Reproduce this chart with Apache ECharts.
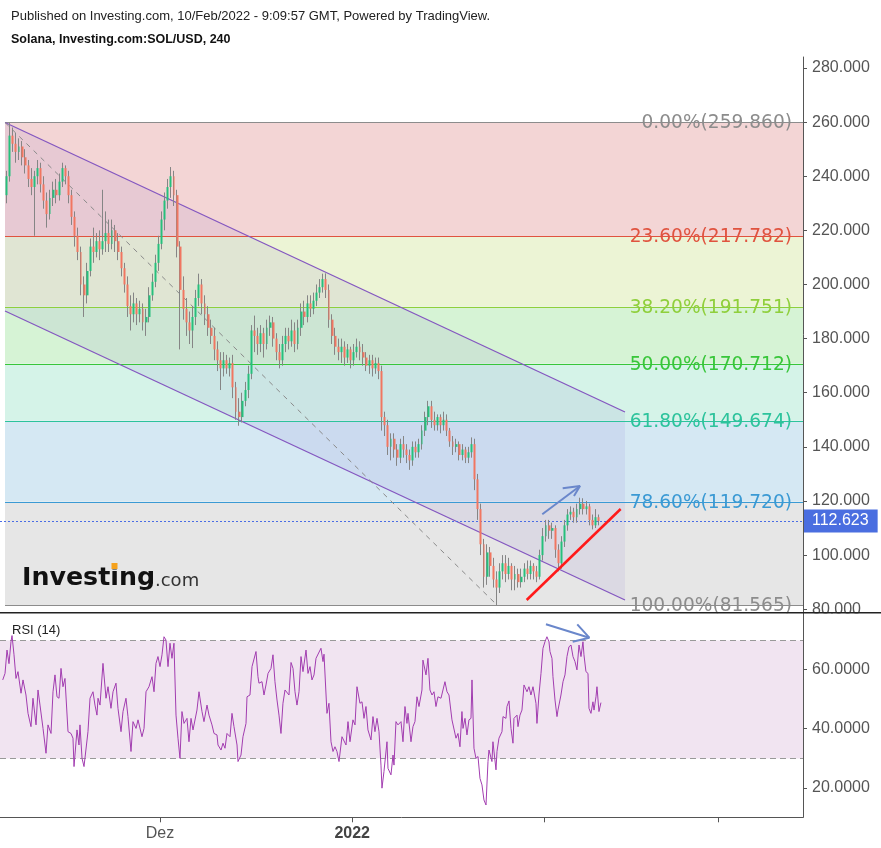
<!DOCTYPE html>
<html><head><meta charset="utf-8">
<script src="https://cdn.jsdelivr.net/npm/echarts@6/dist/echarts.min.js"></script>
<style>html,body{margin:0;padding:0;background:#fff}#c{width:881px;height:848px}</style>
</head><body><div id="c"></div>
<script>
// ---------- time base ----------
const DAY = 86400000;
const T0 = Date.UTC(2021, 10, 1);          // day 0 = 1 Nov 2021
const T = d => T0 + d * DAY;
const xMinDay = 4.19, xMaxDay = 133.71;
const candleStartDay = 5.25, candleStepDays = 0.5;  // 12h candles

// ---------- SOL/USD candles ----------
const opens = [233,240,255,252,249,251,247,244,239,236, 240,243,237,231,226,232,235,233,238,243,
 240,233,225,218,212,200,196,205,214,212, 216,213,216,219,215,220,216,212,206,200,
 192,189,193,189,191,186,188,196,201,208, 215,224,231,236,240,233,214,198,191,186,
 183,188,195,200,193,189,184,181,176,172, 169,172,169,171,162,153,151,157,161,167,
 183,181,178,182,178,184,186,180,175,172, 178,181,179,183,178,184,190,188,193,191,
 194,197,199,202,198,187,181,177,175,177, 173,176,172,175,177,175,173,170,172,169,
 171,168,151,148,140,143,139,136,141,139, 137,135,140,138,141,146,151,155,150,148,
 151,148,150,146,142,140,141,137,139,136, 138,141,128,117,104,92,101,96,91,88,
 94,97,93,96,91,93,90,92,95,93, 96,94,92,100,107,111,109,110,102,97,
 105,111,115,116,114,117,119,117,118,113, 111,114];
const closes = [240,255,252,249,251,247,244,239,236,240, 243,237,231,226,232,235,233,238,243,240,
 233,225,218,212,200,196,205,214,212,216, 213,216,219,215,220,216,212,206,200,192,
 189,193,189,191,186,188,196,201,208,215, 224,231,236,240,233,214,198,191,186,183,
 188,195,200,193,189,184,181,176,172,169, 172,169,171,162,153,151,157,161,167,183,
 181,178,182,178,184,186,180,175,172,178, 181,179,183,178,184,190,188,193,191,194,
 197,199,202,198,187,181,177,175,177,173, 176,172,175,177,175,173,170,172,169,171,
 168,151,148,140,143,139,136,141,139,137, 135,140,138,141,146,151,155,150,148,151,
 148,150,146,142,140,141,137,139,136,138, 141,128,117,104,92,101,96,91,88,94,
 97,93,96,91,93,90,92,95,93,96, 94,92,100,107,111,109,110,102,97,105,
 111,115,116,114,117,119,117,118,113,111, 114,112.623];
const lows = [230,238,249,245,246,244,241,236,233,218, 237,234,228,221,224,229,230,231,236,237,
 230,222,214,209,196,188,193,203,208,210, 209,211,212,212,213,212,209,203,197,188,
 183,186,185,186,183,181,186,194,199,205, 213,220,228,232,229,210,176,187,181,178,
 176.5,185,192,189,185,181,178,172,168,161, 166,167,166,158,150,147.8,149,155,158,165,
 175,174,175,173,176,181,177,172,169,170, 175,176,177,175,176,181,185,186,188,189,
 192,195,197,195,184,178,174,172,171,170, 171,169,170,173,172,170,168,167,166,167,
 165,146,144,137,135,136,133,134,136,134, 131.5,133,136,136,139,144,148,147,146,146,
 145,146,144,140,137,138,135,135,134,134, 136,124,113,100,88,89,92,88,81.565,86,
 91,90,91,87,87,88,88,90,91,91, 91,90,91,98,105,106,106,99,94,95,
 103,109,113,112,112,115,115,115,111,109.5, 110,111];
const highs = [242,259.86,258,256,254,253,250,246,243,242, 246,245,240,234,235,238,239,241,245,244,
 242,235,227,221,214,203,208,217,221,219, 220,235,227,224,224,222,219,214,208,203,
 196,197,195,194,193,191,199,204,211,218, 227,234,239,243.4,242,235,216,203,195,190,
 192,198,204,202,196,192,187,184,179,175, 175,174,173,174,164,158,160,164,170,185,
 188.5,184,185,184,187,188.5,188,182,178,181, 184,184,187,186,187,193,194,196,196,197,
 200,202,204,204.1,200,189,184,180,180,179, 178,177,178,180,179,178,175,174,174,173,
 173,170,153,150,145,145,141,143,144,141, 139,142,142,143,148,153,157,157,153,152,
 152,153,152,147,144,143,142,141,140,140, 143.5,143,130,119,106,104,103,99,94,97,
 100,100,99,97,96,95,95,97,98,98, 97,96,102,110,113,113,112,111,104,107,
 113,117,118,117.5,119,121.2,121,120,119,115, 117,115];

// ---------- RSI(14) ----------
const rsiDay = [4.63,5.00,5.32,5.64,5.96,6.13,6.45,6.77,7.09,7.58, 7.90,8.38,8.71,9.19,9.51,10.00,10.32,10.64,11.13,11.61,
 11.93,12.42,12.74,13.06,13.38,13.71,14.03,14.35,14.67,15.16, 15.64,15.96,16.13,16.61,16.93,17.09,17.42,17.74,18.06,18.38,
 18.71,19.19,19.51,19.83,20.00,20.32,20.80,21.29,21.61,22.09, 22.42,22.90,23.22,23.71,24.03,24.51,24.83,25.32,25.64,26.13,
 26.45,27.09,27.42,27.74,28.22,28.71,29.03,29.35,29.67,30.00, 30.32,30.64,30.96,31.29,31.61,31.93,32.25,32.58,32.90,33.22,
 33.54,33.87,34.35,34.67,35.00,35.32,35.64,35.96,36.29,36.77, 37.09,37.58,37.90,38.38,38.71,39.19,39.35,39.84,40.16,40.48,
 40.80,41.29,41.61,41.93,42.42,42.58,43.06,43.38,43.87,44.03, 44.51,44.84,45.16,45.48,45.80,45.96,46.45,46.77,47.09,47.42,
 47.90,48.22,48.54,48.87,49.19,49.51,49.83,50.16,50.48,50.80, 51.13,51.45,51.77,52.09,52.42,52.74,53.06,53.55,53.87,54.19,
 54.51,54.84,55.16,55.48,55.96,56.29,56.45,56.93,57.25,57.58, 57.90,58.22,58.54,58.87,59.35,59.67,60.00,60.32,60.64,61.12,
 61.45,61.77,62.25,62.58,62.90,63.22,63.54,64.03,64.35,64.67, 65.00,65.32,65.64,65.80,66.12,66.61,66.77,67.25,67.58,67.74,
 68.06,68.38,68.87,69.19,69.51,69.83,70.00,70.48,70.80,71.12, 71.45,71.77,72.25,72.41,72.90,73.22,73.54,73.87,74.19,74.51,
 74.83,75.32,75.64,75.96,76.29,76.61,77.09,77.41,77.74,78.06, 78.38,78.70,78.87,79.19,79.51,79.83,80.16,80.32,80.64,80.96,
 81.29,81.61,81.93,82.25,82.58,82.90,83.06,83.54,83.70,84.19, 84.35,84.67,85.16,85.32,85.80,85.96,86.29,86.61,86.93,87.09,
 87.58,87.74,88.06,88.38,88.71,89.19,89.51,89.83,90.16,90.64, 90.80,91.12,91.45,91.77,92.09,92.41,92.74,92.90,93.22,93.38,
 93.71,94.03,94.19,94.67,95.00,95.32,95.64,95.96,96.29,96.61, 96.93,97.25,97.58,97.90,98.22,98.38,98.70,99.03,99.19,99.51,
 99.83,100.00,100.32,100.48,100.80,101.12];
const rsiVal = [56.5,58.7,66.6,62,69.4,71.5,65,57,59.3,52, 56.5,51.4,45.2,40.7,50.3,41.3,53.1,48,40.1,31.7,
 41.3,38.4,52.5,58.2,50.8,50.3,60.4,54.2,57,39, 38.4,36.8,27.2,39.6,34.5,41.3,30,27.2,26.6,39,
 50.3,52.5,48,44.6,50.3,48,62.1,50.3,54.2,46.9, 52.5,55.4,46.9,39,45.8,50.3,44.1,32.3,42.4,40.1,
 43,37.3,40.1,52.5,54.2,57.6,52.5,62.1,64.4,61, 65,71.1,70,61,68.9,63.8,68.9,44.6,36.8,30,
 45.8,41.8,43.5,35.6,43.5,39.6,40.1,46.3,52.5,45.8, 42.4,48,44.6,41.3,38.4,37.9,34.5,32.8,35.1,33.4,
 38.4,37.3,45.2,40.7,34.5,28.9,31.1,37.3,41.8,50.8, 51.4,61,60.4,66.1,57.6,55.4,55.9,51.4,54.8,58.7,
 60.4,65,55.9,49.7,44.6,38.4,48.6,53.1,53.7,51.4, 62.4,60.4,52.5,48,52.5,64.4,59.3,66.6,58.7,61,
 56.5,58.2,63.8,64.4,67.2,62.7,65.2,45.2,48.6,35.6, 32.3,33.9,32.3,28.9,37.3,36.8,34.5,42.4,35.6,43,
 41.3,54.2,48.6,49.1,43.5,47.5,39.6,36.2,44.1,39, 43.5,39,27.7,19.9,25.5,35.6,26.6,24.4,31.1,27.7,
 42.4,41.3,42.4,35.6,47.5,41.8,45.2,35.6,40.7,42.4, 50.8,47.5,53.1,63.2,58.2,63.8,53.1,51.4,52.5,47.5,
 50.8,50.3,53.1,55.9,52.5,51.4,43,42.4,36.8,38.4, 33.9,45.8,40.1,43.5,37.9,43,43.5,56.5,33.4,30,
 30.6,23.2,21,15.9,14.2,28.9,32.8,28.9,35.6,26.1, 32.3,36.8,39,44.1,43.5,47.5,49.4,40.1,35.1,43.5,
 44.6,40.7,44.6,46.3,54.8,52.5,54.2,51.4,54.2,48.6, 41.8,51.4,58.7,67.2,69.4,71.1,69.4,66.1,63.8,57.6,
 49.7,44.1,46.3,51.4,55.9,58.2,64.4,67.7,68.3,64.4, 62.7,59.9,68.3,64.4,69.4,65,59.3,58.7,46.9,45.2,
 49.1,46.3,50.8,54.2,45.8,48.8262];

// ---------- Fibonacci retracement ----------
const fibPct = [0, 23.6, 38.2, 50, 61.8, 78.6, 100];
const fibVal = [259.860, 217.782, 191.751, 170.712, 149.674, 119.720, 81.565];
const fibColor = ['#8c8c8c', '#e0533f', '#8fcf3c', '#38c63a', '#2dc39c', '#3b9ad4', '#8c8c8c'];
const fibZone = ['#f3d5d5', '#ecf4d5', '#d6f3d5', '#d5f3e8', '#d5e8f3', '#e6e6e6'];
const fibStartDay = 5.0;

// ---------- drawings (data space: [day, price]) ----------
const channelUpper = [[5.0, 259.86], [105.0, 152.88]];
const channelLower = [[5.0, 190.21], [105.0, 83.41]];
const fibDiagonal = [[5.0, 259.86], [84.35, 81.565]];
const redTrend = [[89.14, 83.41], [104.3, 117.04]];
const priceArrowShaft = [[91.66, 115.08], [97.74, 125.54]];
const priceArrowHead = [[94.95, 124.69], [97.74, 125.54], [96.77, 121.86]];
const rsiArrowShaft = [[92.25, 75.31], [99.24, 70.78]];
const rsiArrowHead = [[97.30, 75.31], [99.24, 70.78], [96.56, 69.43]];
const lastPrice = 112.623;
const lastRsi = 48.8262;
const rsiBands = [30, 70];

// ---------- axis ticks ----------
const priceTicks = [80, 100, 120, 140, 160, 180, 200, 220, 240, 260, 280];
const rsiTicks = [20, 40, 60];
const xTickDays = [30, 61, 92, 120];
const xTickLabels = ['Dez', '2022', '', ''];
const xTickBold = [false, true, false, false];

// ---------- build ----------
const tp = d => d.map(p => [T(p[0]), p[1]]);
const candleData = opens.map((o, i) => [T(candleStartDay + i * candleStepDays), o, closes[i], lows[i], highs[i]]);
const bodyData = opens.map((o, i) => [T(candleStartDay + i * candleStepDays), o, closes[i], Math.min(o, closes[i]), Math.max(o, closes[i])]);
const rsiData = rsiDay.map((d, i) => [T(d), rsiVal[i]]);
const xTickTimes = xTickDays.map(T);
const xLabelTimes = xTickTimes.filter((t, i) => xTickLabels[i] !== '');

const FONT = 'Liberation Sans';
const lineSeries = (data, color, width, z, extra) => Object.assign({
  type: 'line', data: tp(data), xAxisIndex: 0, yAxisIndex: 0, symbol: 'none', silent: true,
  lineStyle: { color, width }, z, animation: false
}, extra || {});

const chart = echarts.init(document.getElementById('c'), null, { renderer: 'canvas' });
chart.setOption({
  animation: false,
  textStyle: { fontFamily: FONT },
  grid: [
    { left: 0, top: 57, width: 803, height: 555.5 },
    { left: 0, top: 613, width: 803, height: 204.3 }
  ],
  xAxis: [
    { type: 'value', gridIndex: 0, min: T(xMinDay), max: T(xMaxDay), show: false, splitLine: { show: false } },
    { type: 'value', gridIndex: 1, min: T(xMinDay), max: T(xMaxDay),
      axisLine: { show: true, lineStyle: { color: '#555', width: 1 } },
      axisTick: { show: true, customValues: xTickTimes, length: 5, lineStyle: { color: '#555' } },
      axisLabel: { customValues: xLabelTimes, margin: 8, color: '#555', fontSize: 16, fontFamily: FONT,
        formatter: v => {
          let k = 0, best = Infinity;
          xTickTimes.forEach((t, i) => { const d = Math.abs(t - v); if (d < best) { best = d; k = i; } });
          return xTickBold[k] ? '{b|' + xTickLabels[k] + '}' : xTickLabels[k];
        },
        rich: { b: { fontWeight: 'bold', fontSize: 16, color: '#444', fontFamily: FONT } } },
      splitLine: { show: false } }
  ],
  yAxis: [
    { type: 'value', gridIndex: 0, position: 'right', min: 78.79, max: 284.06,
      axisLine: { show: true, lineStyle: { color: '#555' } },
      axisTick: { show: true, customValues: priceTicks, length: 4, lineStyle: { color: '#555' } },
      axisLabel: { customValues: priceTicks, formatter: v => v.toFixed(3), color: '#555', fontSize: 16, fontFamily: FONT, margin: 9 },
      splitLine: { show: false } },
    { type: 'value', gridIndex: 1, position: 'right', min: 10.05, max: 79.13,
      axisLine: { show: true, lineStyle: { color: '#555' } },
      axisTick: { show: true, customValues: rsiTicks, length: 4, lineStyle: { color: '#555' } },
      axisLabel: { customValues: rsiTicks, formatter: v => v.toFixed(4), color: '#555', fontSize: 16, fontFamily: FONT, margin: 9 },
      splitLine: { show: false } }
  ],
  series: [
    // fib zones
    { type: 'custom', xAxisIndex: 0, yAxisIndex: 0, z: 1, silent: true,
      data: fibZone.map((c, i) => [T(fibStartDay), fibVal[i], fibVal[i + 1]]),
      renderItem: (params, api) => {
        const i = params.dataIndex;
        const a = api.coord([T(fibStartDay), fibVal[i]]);
        const b = api.coord([T(xMaxDay), fibVal[i + 1]]);
        return { type: 'rect', shape: { x: a[0], y: a[1], width: b[0] - a[0], height: b[1] - a[1] }, style: { fill: fibZone[i] } };
      } },
    // channel fill
    { type: 'custom', xAxisIndex: 0, yAxisIndex: 0, z: 2, silent: true,
      data: [[T(channelUpper[0][0]), channelUpper[0][1]]],
      renderItem: (params, api) => {
        const pts = [channelUpper[0], channelUpper[1], channelLower[1], channelLower[0]].map(p => api.coord([T(p[0]), p[1]]));
        return { type: 'polygon', shape: { points: pts }, style: { fill: 'rgba(95,70,190,0.08)' } };
      } },
    // fib lines + labels
    { type: 'custom', xAxisIndex: 0, yAxisIndex: 0, z: 3, silent: true,
      data: fibVal.map(v => [T(fibStartDay), v]),
      renderItem: (params, api) => {
        const i = params.dataIndex;
        const a = api.coord([T(fibStartDay), fibVal[i]]);
        const b = api.coord([T(xMaxDay), fibVal[i]]);
        const y = Math.round(a[1]) + 0.5;
        return { type: 'group', children: [
          { type: 'line', shape: { x1: a[0], y1: y, x2: b[0], y2: y }, style: { stroke: fibColor[i], lineWidth: 1 } },
          { type: 'text', x: b[0] - 11, y: y + 1, style: { text: fibPct[i].toFixed(2) + '%(' + fibVal[i].toFixed(3) + ')',
            fill: fibColor[i], fontSize: 18.6, fontFamily: 'DejaVu Sans', align: 'right', verticalAlign: 'middle' } }
        ] };
      } },
    // channel lines and diagonal
    lineSeries(channelUpper, '#8457c0', 1.3, 4),
    lineSeries(channelLower, '#8457c0', 1.3, 4),
    lineSeries(fibDiagonal, '#8a8a8a', 1, 4, { lineStyle: { color: '#8a8a8a', width: 1, type: [5, 5] } }),
    // candles: wicks
    { type: 'candlestick', xAxisIndex: 0, yAxisIndex: 0, z: 5, silent: true, barWidth: 0.8,
      data: candleData,
      itemStyle: { color: '#858585', color0: '#858585', borderColor: '#858585', borderColor0: '#858585', borderWidth: 1 } },
    // candles: bodies
    { type: 'candlestick', xAxisIndex: 0, yAxisIndex: 0, z: 6, silent: true, barWidth: 2.4,
      data: bodyData,
      itemStyle: { color: '#26c07c', color0: '#f17661', borderColor: '#26c07c', borderColor0: '#f17661', borderWidth: 0 },
      markLine: { silent: true, symbol: ['none', 'none'], animation: false,
        lineStyle: { color: '#4a6de5', type: [2, 2], width: 1 },
        label: { show: true, position: 'end', distance: 1, formatter: lastPrice.toFixed(3), color: '#fff',
          backgroundColor: '#4a6ee0', padding: [4, 9, 3, 8], fontSize: 16, fontFamily: FONT },
        data: [{ yAxis: lastPrice }] } },
    // red trend line & arrows
    lineSeries(redTrend, '#ff1a1a', 2.5, 8),
    lineSeries(priceArrowShaft, '#6a87cb', 2, 8),
    lineSeries(priceArrowHead, '#6a87cb', 2, 8),
    // RSI band + level lines
    { type: 'custom', xAxisIndex: 1, yAxisIndex: 1, z: 1, silent: true,
      data: [[T(xMinDay), rsiBands[1]]],
      renderItem: (params, api) => {
        const a = api.coord([T(xMinDay), rsiBands[1]]);
        const b = api.coord([T(xMaxDay), rsiBands[0]]);
        const ya = Math.round(a[1]) + 0.5, yb = Math.round(b[1]) + 0.5;
        return { type: 'group', children: [
          { type: 'rect', shape: { x: a[0], y: ya, width: b[0] - a[0], height: yb - ya }, style: { fill: '#f1e4f1' } },
          { type: 'line', shape: { x1: a[0], y1: ya, x2: b[0], y2: ya }, style: { stroke: '#999', lineWidth: 1, lineDash: [6, 4] } },
          { type: 'line', shape: { x1: a[0], y1: yb, x2: b[0], y2: yb }, style: { stroke: '#999', lineWidth: 1, lineDash: [6, 4] } }
        ] };
      } },
    // RSI line
    { type: 'line', xAxisIndex: 1, yAxisIndex: 1, z: 5, silent: true, symbol: 'none',
      data: rsiData, lineStyle: { color: '#a23db0', width: 1 },
      markLine: { silent: true, symbol: ['none', 'none'], animation: false,
        lineStyle: { opacity: 0 },
        label: { show: true, position: 'end', distance: 1, formatter: lastRsi.toFixed(4), color: '#fff',
          backgroundColor: '#800080', padding: [4, 10, 4, 9], fontSize: 16, fontFamily: FONT },
        data: [{ yAxis: lastRsi }] } },
    { type: 'line', xAxisIndex: 1, yAxisIndex: 1, z: 8, silent: true, symbol: 'none',
      data: tp(rsiArrowShaft), lineStyle: { color: '#6a87cb', width: 2 } },
    { type: 'line', xAxisIndex: 1, yAxisIndex: 1, z: 8, silent: true, symbol: 'none',
      data: tp(rsiArrowHead), lineStyle: { color: '#6a87cb', width: 2 } }
  ],
  graphic: [
    { type: 'text', x: 11, y: 16, z: 100, style: { text: 'Published on Investing.com, 10/Feb/2022 - 9:09:57 GMT, Powered by TradingView.',
      fontSize: 13, fontFamily: FONT, fill: '#222', verticalAlign: 'middle' } },
    { type: 'text', x: 11, y: 40, z: 100, style: { text: 'Solana, Investing.com:SOL/USD, 240',
      fontSize: 12.5, fontWeight: 'bold', fontFamily: FONT, fill: '#111', verticalAlign: 'middle' } },
    { type: 'text', x: 22, y: 578, z: 100, style: { text: 'Investing', fontSize: 25.3, fontWeight: 'bold', fontFamily: 'DejaVu Sans', fill: '#111', verticalAlign: 'middle' } },
    { type: 'text', x: 155, y: 581, z: 100, style: { text: '.com', fontSize: 18, fontFamily: 'DejaVu Sans', fill: '#333', verticalAlign: 'middle' } },
    { type: 'rect', z: 101, shape: { x: 111.5, y: 563, width: 6, height: 6 }, style: { fill: '#f5a11c' } },
    { type: 'rect', z: 100, shape: { x: 0, y: 613.5, width: 803, height: 7.5 }, style: { fill: '#fff' } },
    { type: 'rect', z: 100, shape: { x: 804.5, y: 613.5, width: 77, height: 7.5 }, style: { fill: '#fff' } },
    { type: 'line', z: 102, shape: { x1: 0, y1: 612.75, x2: 881, y2: 612.75 }, style: { stroke: '#222', lineWidth: 1.5 } },
    { type: 'text', x: 12, y: 630.5, z: 100, style: { text: 'RSI (14)', fontSize: 13, fontFamily: FONT, fill: '#222', verticalAlign: 'middle' } }
  ]
});
</script></body></html>
